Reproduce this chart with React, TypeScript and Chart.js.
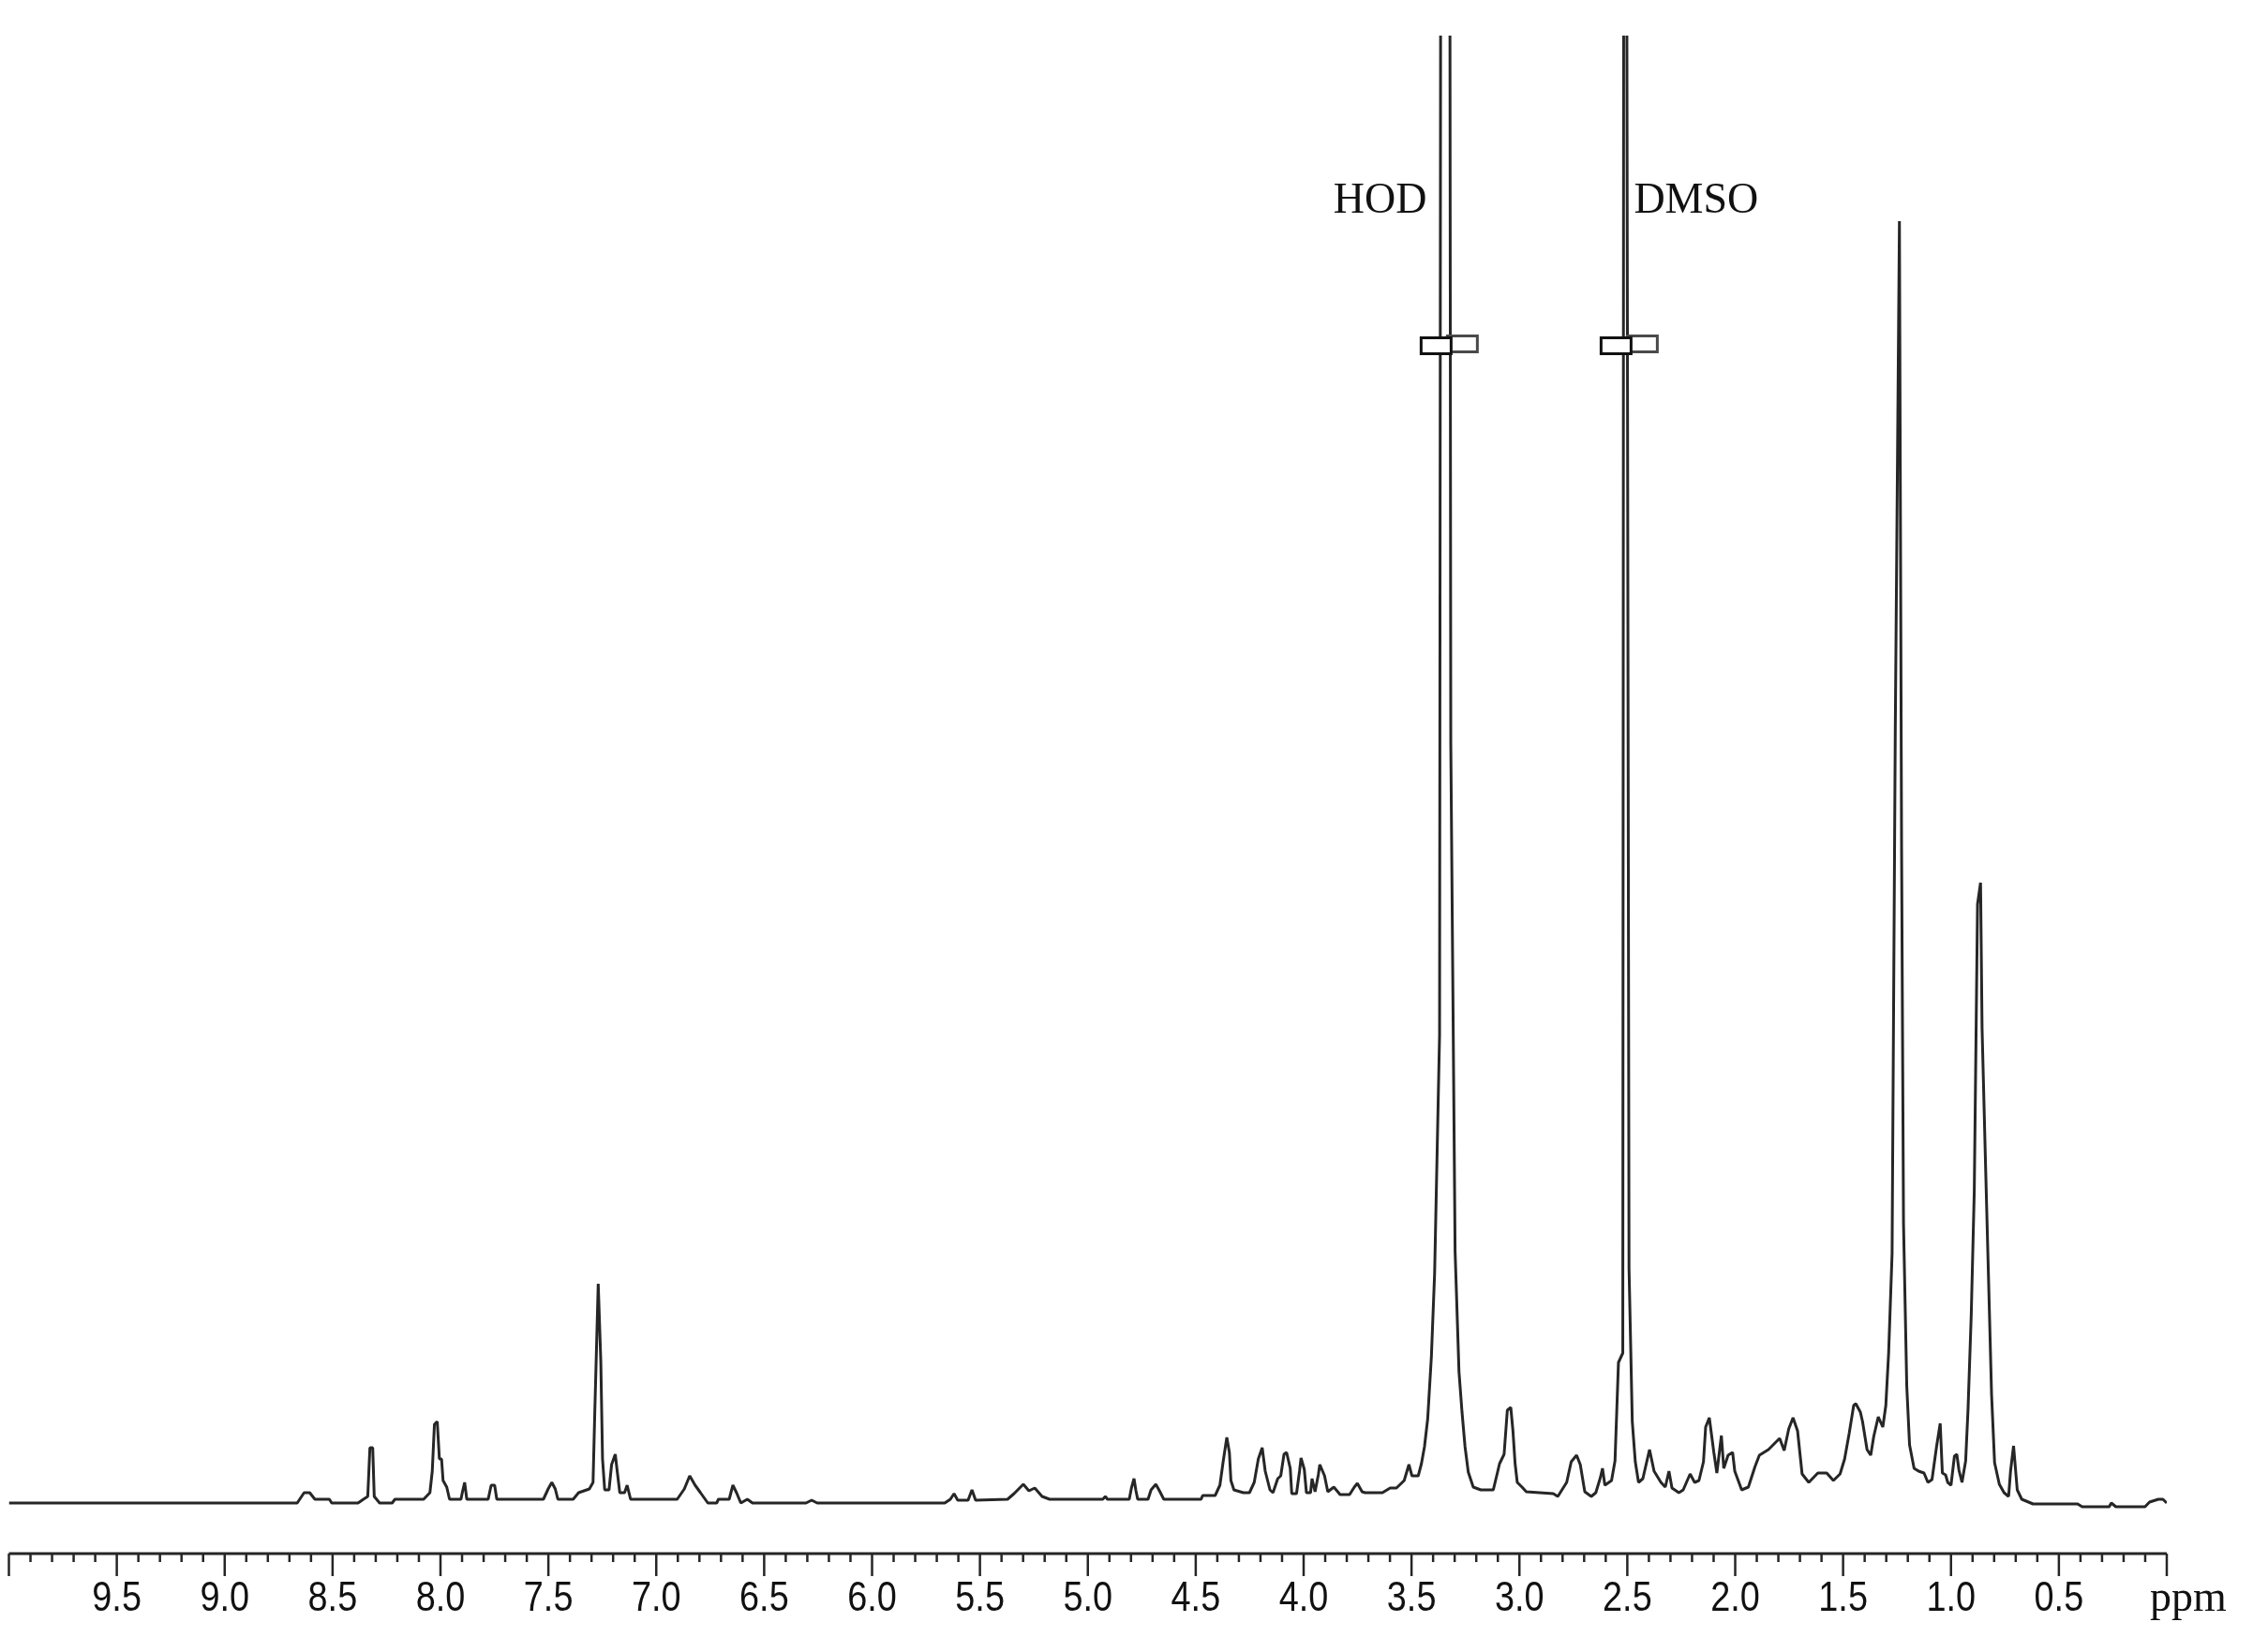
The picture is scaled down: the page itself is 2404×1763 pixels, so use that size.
import React, { useEffect, useRef } from 'react';
import { Chart, registerables } from 'chart.js';

Chart.register(...registerables);

// Chemical shift (ppm) of each sampled point of the 1H NMR trace, left to right
const shifts: number[] = [
  10.0, 8.664, 8.632, 8.606, 8.582, 8.515, 8.504, 8.382, 8.357, 8.337,
  8.327, 8.314, 8.307, 8.282, 8.224, 8.211, 8.078, 8.049, 8.038, 8.028,
  8.015, 8.005, 7.995, 7.988, 7.971, 7.958, 7.905, 7.898, 7.888, 7.878,
  7.779, 7.765, 7.749, 7.739, 7.523, 7.501, 7.484, 7.468, 7.456, 7.385,
  7.36, 7.31, 7.293, 7.285, 7.269, 7.257, 7.249, 7.239, 7.219, 7.207,
  7.19, 7.181, 7.169, 7.147, 7.135, 7.119, 6.903, 6.87, 6.845, 6.82,
  6.795, 6.761, 6.72, 6.712, 6.662, 6.645, 6.628, 6.608, 6.578, 6.554,
  6.306, 6.28, 6.254, 5.663, 5.637, 5.62, 5.603, 5.555, 5.537, 5.52,
  5.372, 5.342, 5.299, 5.273, 5.246, 5.212, 5.177, 5.047, 4.931, 4.919,
  4.909, 4.808, 4.798, 4.786, 4.777, 4.769, 4.721, 4.707, 4.685, 4.668,
  4.648, 4.475, 4.468, 4.41, 4.388, 4.373, 4.356, 4.344, 4.337, 4.323,
  4.279, 4.251, 4.229, 4.21, 4.192, 4.178, 4.156, 4.142, 4.12, 4.106,
  4.091, 4.079, 4.062, 4.055, 4.033, 4.019, 4.012, 3.997, 3.987, 3.968,
  3.961, 3.947, 3.932, 3.925, 3.903, 3.888, 3.86, 3.831, 3.787, 3.765,
  3.751, 3.729, 3.715, 3.635, 3.599, 3.57, 3.534, 3.512, 3.498, 3.469,
  3.454, 3.44, 3.425, 3.408, 3.393, 3.37, 3.359, 3.344, 3.329, 3.318,
  3.298, 3.28, 3.266, 3.252, 3.237, 3.214, 3.179, 3.121, 3.092, 3.071,
  3.056, 3.04, 3.03, 3.02, 3.01, 2.988, 2.968, 2.843, 2.822, 2.781,
  2.76, 2.735, 2.718, 2.697, 2.667, 2.646, 2.625, 2.615, 2.604, 2.573,
  2.557, 2.541, 2.521, 2.513, 2.499, 2.492, 2.477, 2.463, 2.448, 2.428,
  2.397, 2.376, 2.344, 2.324, 2.307, 2.293, 2.261, 2.241, 2.209, 2.188,
  2.168, 2.147, 2.137, 2.12, 2.099, 2.085, 2.064, 2.053, 2.033, 2.012,
  2.002, 1.97, 1.939, 1.908, 1.888, 1.846, 1.794, 1.773, 1.752, 1.732,
  1.711, 1.69, 1.659, 1.617, 1.576, 1.545, 1.514, 1.493, 1.472, 1.451,
  1.441, 1.42, 1.41, 1.389, 1.372, 1.358, 1.337, 1.316, 1.302, 1.289,
  1.273, 1.258, 1.239, 1.229, 1.22, 1.205, 1.192, 1.171, 1.15, 1.125,
  1.107, 1.088, 1.067, 1.05, 1.04, 1.025, 1.015, 1.0, 0.984, 0.973,
  0.963, 0.949, 0.932, 0.921, 0.906, 0.892, 0.877, 0.863, 0.856, 0.841,
  0.827, 0.812, 0.798, 0.776, 0.754, 0.733, 0.724, 0.71, 0.693, 0.672,
  0.62, 0.413, 0.392, 0.267, 0.257, 0.236, 0.101, 0.08, 0.039, 0.018,
  0.0,
];

// Signal intensity (arbitrary units) at each shift above
const intensities: number[] = [
  0, 0, 11, 11, 4, 4, 0, 0, 4, 7,
  59, 59, 7, 0, 0, 4, 4, 11, 34, 84,
  87, 47, 47, 24, 17, 4, 4, 12, 22, 4,
  4, 19, 19, 4, 4, 15, 22, 15, 4, 4,
  11, 15, 22, 96, 234, 151, 47, 14, 14, 41,
  52, 34, 11, 11, 19, 4, 4, 15, 29, 19,
  11, 0, 0, 4, 4, 19, 11, 0, 4, 0,
  0, 3, 0, 0, 4, 10, 3, 3, 14, 3,
  4, 10, 20, 13, 16, 7, 4, 4, 4, 7,
  4, 4, 16, 26, 13, 4, 4, 14, 20, 13,
  4, 4, 8, 8, 19, 44, 70, 54, 24, 14,
  11, 11, 22, 47, 59, 34, 14, 11, 26, 29,
  52, 54, 37, 10, 10, 34, 48, 36, 11, 11,
  26, 12, 30, 41, 29, 12, 17, 9, 9, 17,
  21, 12, 11, 11, 16, 16, 24, 41, 29, 29,
  42, 60, 90, 156, 245, 500, 3000, 2200, 3000, 810,
  268, 140, 97, 60, 33, 17, 14, 14, 42, 52,
  99, 102, 77, 42, 22, 17, 12, 10, 7, 22,
  44, 51, 41, 12, 7, 11, 27, 37, 19, 24,
  45, 150, 160, 3000, 1186, 250, 87, 44, 22, 26,
  57, 34, 22, 17, 34, 16, 11, 14, 31, 22,
  24, 44, 81, 91, 54, 32, 72, 37, 51, 54,
  34, 14, 17, 39, 51, 57, 69, 56, 79, 91,
  77, 31, 22, 32, 32, 24, 31, 47, 74, 104,
  106, 97, 87, 57, 51, 71, 92, 81, 104, 160,
  266, 831, 1368, 699, 298, 125, 62, 37, 34, 32,
  22, 25, 60, 85, 32, 30, 22, 19, 50, 52,
  35, 22, 45, 100, 202, 334, 639, 662, 507, 371,
  248, 116, 43, 20, 11, 7, 34, 61, 14, 4,
  -1, -1, -4, -4, 0, -4, -4, 1, 4, 4,
  0,
];

// Axis tick labels (ppm)
const tickValues: number[] = [9.5, 9.0, 8.5, 8.0, 7.5, 7.0, 6.5, 6.0, 5.5, 5.0, 4.5, 4.0, 3.5, 3.0, 2.5, 2.0, 1.5, 1.0, 0.5];
const tickLabels: string[] = ['9.5', '9.0', '8.5', '8.0', '7.5', '7.0', '6.5', '6.0', '5.5', '5.0', '4.5', '4.0', '3.5', '3.0', '2.5', '2.0', '1.5', '1.0', '0.5'];
const axisUnit = 'ppm';

// Truncated solvent signals
const solventLabels: string[] = ['HOD', 'DMSO'];
const solventShifts: number[] = [3.36, 2.513];

const W = 2404;
const H = 1763;
const INK = '#262626';

const spectrumAxisPlugin = {
  id: 'spectrumAxis',
  afterDatasetsDraw(chart: any) {
    const { ctx, chartArea } = chart;
    const x = chart.scales.x;
    const y = chart.scales.y;
    const axisY = chartArea.bottom;
    ctx.save();

    // axis line
    ctx.strokeStyle = INK;
    ctx.lineWidth = 3;
    ctx.beginPath();
    ctx.moveTo(x.getPixelForValue(10), axisY);
    ctx.lineTo(x.getPixelForValue(0), axisY);
    ctx.stroke();

    // major / minor ticks every 0.1 ppm
    ctx.lineWidth = 2.5;
    for (let i = 0; i <= 100; i++) {
      const px = x.getPixelForValue(i / 10);
      const len = i % 5 === 0 ? 24 : 9;
      ctx.beginPath();
      ctx.moveTo(px, axisY);
      ctx.lineTo(px, axisY + len);
      ctx.stroke();
    }

    // tick labels (narrow)
    ctx.fillStyle = '#111';
    ctx.font = '44px "Liberation Sans", Arial, sans-serif';
    ctx.textAlign = 'center';
    ctx.textBaseline = 'alphabetic';
    tickValues.forEach((v, i) => {
      const px = x.getPixelForValue(v);
      ctx.save();
      ctx.translate(px, axisY + 61);
      ctx.scale(0.86, 1);
      ctx.fillText(tickLabels[i], 0, 0);
      ctx.restore();
    });

    // unit
    ctx.font = '46px "Liberation Serif", "Times New Roman", serif';
    ctx.textAlign = 'left';
    ctx.fillText(axisUnit, x.getPixelForValue(0) - 18, axisY + 61);

    // solvent labels
    const labelY = y.getPixelForValue(1377);
    ctx.font = '46px "Liberation Serif", "Times New Roman", serif';
    ctx.textAlign = 'right';
    ctx.fillText(solventLabels[0], x.getPixelForValue(solventShifts[0]) - 16, labelY);
    ctx.textAlign = 'left';
    ctx.fillText(solventLabels[1], x.getPixelForValue(solventShifts[1]) + 10, labelY);

    // break markers on the truncated peaks
    const breakY = y.getPixelForValue(1236);
    const offsets = [8, 5];
    solventShifts.forEach((s, i) => {
      const cx = x.getPixelForValue(s) + offsets[i];
      ctx.lineWidth = 3;
      // right half (slightly raised, grey edge)
      ctx.fillStyle = '#ffffff';
      ctx.strokeStyle = '#4a4a4a';
      ctx.fillRect(cx - 2, breakY - 9.5, 32, 17);
      ctx.strokeRect(cx - 2, breakY - 9.5, 32, 17);
      // left half
      ctx.strokeStyle = '#111';
      ctx.fillRect(cx - 30, breakY - 7.5, 32, 17);
      ctx.strokeRect(cx - 30, breakY - 7.5, 32, 17);
    });

    ctx.restore();
  },
};

export default function App() {
  const canvasRef = useRef<HTMLCanvasElement | null>(null);

  useEffect(() => {
    const canvas = canvasRef.current;
    if (!canvas) return;
    const points = shifts.map((s, i) => ({ x: s, y: intensities[i] }));
    const chart = new Chart(canvas, {
      type: 'line',
      data: {
        datasets: [
          {
            data: points,
            borderColor: INK,
            borderWidth: 3,
            borderJoinStyle: 'bevel',
            pointRadius: 0,
            tension: 0,
            fill: false,
            clip: 0,
          } as any,
        ],
      },
      options: {
        responsive: false,
        animation: false,
        events: [],
        layout: { padding: { left: 9.5, right: 92, top: 38, bottom: 105 } },
        scales: {
          x: { type: 'linear', min: 0, max: 10, reverse: true, display: false },
          y: { type: 'linear', min: -54, max: 1566, display: false },
        },
        plugins: { legend: { display: false }, tooltip: { enabled: false } },
      },
      plugins: [spectrumAxisPlugin],
    });
    return () => chart.destroy();
  }, []);

  return (
    <div style={{ position: 'absolute', left: 0, top: 0, width: W, height: H, background: '#fff' }}>
      <canvas ref={canvasRef} width={W} height={H} style={{ width: W, height: H, display: 'block' }} />
    </div>
  );
}
